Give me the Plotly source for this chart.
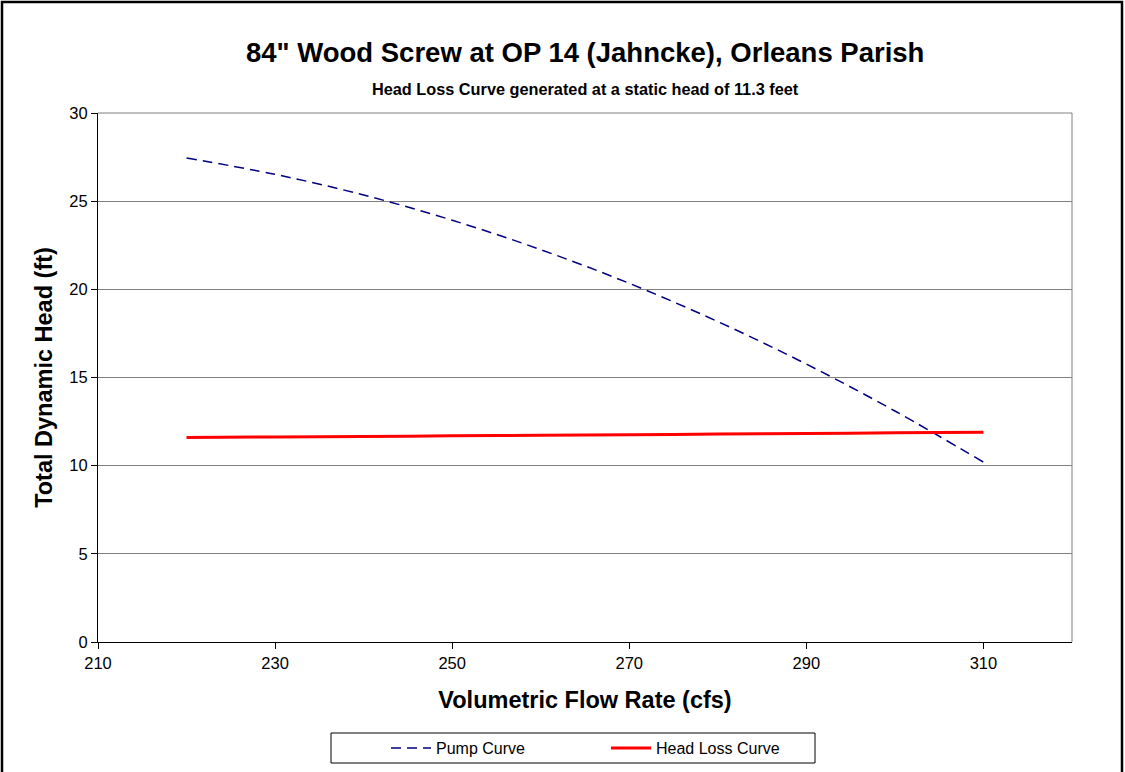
import plotly.graph_objects as go

# Flow rate (cfs) at which both curves are tabulated
flow_cfs = [220, 230, 240, 250, 260, 270, 280, 290, 300, 310]

# Pump curve: total dynamic head (ft)
pump_head = [27.45, 26.52, 25.35, 23.92, 22.25, 20.34, 18.17, 15.76, 13.10, 10.20]

# System head loss curve at 11.3 ft static head (ft)
loss_head = [11.60, 11.63, 11.66, 11.69, 11.72, 11.75, 11.79, 11.82, 11.86, 11.90]

x_ticks = [210, 230, 250, 270, 290, 310]
y_ticks = [0, 5, 10, 15, 20, 25, 30]

FONT = "Liberation Sans, Arial, sans-serif"

fig = go.Figure()
fig.add_trace(go.Scatter(
    x=flow_cfs, y=pump_head, mode="lines", name="Pump Curve",
    line=dict(color="#000080", width=1.5, dash="10px,6px", shape="spline"),
))
fig.add_trace(go.Scatter(
    x=flow_cfs, y=loss_head, mode="lines", name="Head Loss Curve",
    line=dict(color="#ff0000", width=3, shape="spline"),
))

L, R, T, B = 98, 53, 113, 130
W, H = 1125, 772
pw, ph = W - L - R, H - T - B

def px_x(p):
    return (p - L) / pw

def px_y(p):
    return (H - B - p) / ph

fig.update_layout(
    width=W, height=H,
    margin=dict(l=L, r=R, t=T, b=B, autoexpand=False),
    paper_bgcolor="white", plot_bgcolor="white",
    font=dict(family=FONT, color="black", size=16),
    showlegend=True,
    legend=dict(
        orientation="h", x=px_x(386), y=px_y(731), xanchor="left", yanchor="top",
        borderwidth=0, bgcolor="rgba(0,0,0,0)",
        font=dict(size=16), entrywidth=165, entrywidthmode="pixels",
        itemwidth=40,
    ),
    xaxis=dict(
        range=[210, 320], tickvals=x_ticks, ticks="outside", ticklen=6,
        tickcolor="black", showline=True, linecolor="black", linewidth=1,
        showgrid=False, zeroline=False, mirror=False,
        tickfont=dict(size=16.5),
        title=dict(text="<b>Volumetric Flow Rate (cfs)</b>", font=dict(size=23.5), standoff=20),
    ),
    yaxis=dict(
        range=[0, 30], tickvals=y_ticks, ticks="outside", ticklen=6,
        tickcolor="black", showline=True, linecolor="black", linewidth=1,
        showgrid=True, gridcolor="#808080", gridwidth=1, zeroline=False,
        tickfont=dict(size=16.5),
        title=dict(text="<b>Total Dynamic Head (ft)</b>", font=dict(size=23.5), standoff=10),
    ),
    shapes=[
        # plot-area frame (top and right edges in gray)
        dict(type="line", xref="paper", yref="paper", x0=0, x1=1, y0=1, y1=1,
             line=dict(color="#808080", width=1)),
        dict(type="line", xref="paper", yref="paper", x0=1, x1=1, y0=0, y1=1,
             line=dict(color="#808080", width=1)),
        # legend box
        dict(type="rect", xref="paper", yref="paper",
             x0=px_x(331), x1=px_x(815), y0=px_y(733), y1=px_y(763),
             line=dict(color="black", width=1), layer="below"),
        # outer chart border
        dict(type="rect", xref="paper", yref="paper",
             x0=px_x(2), x1=px_x(1122), y0=px_y(2), y1=px_y(780),
             line=dict(color="black", width=2.5)),
    ],
    annotations=[
        dict(text="<b>84\" Wood Screw at OP 14 (Jahncke), Orleans Parish</b>",
             xref="paper", yref="paper", x=0.5, y=px_y(52), xanchor="center",
             yanchor="middle", showarrow=False, font=dict(size=27.5)),
        dict(text="<b>Head Loss Curve generated at a static head of 11.3 feet</b>",
             xref="paper", yref="paper", x=0.5, y=px_y(89), xanchor="center",
             yanchor="middle", showarrow=False, font=dict(size=16.3)),
    ],
)

fig.write_html("out.html")
